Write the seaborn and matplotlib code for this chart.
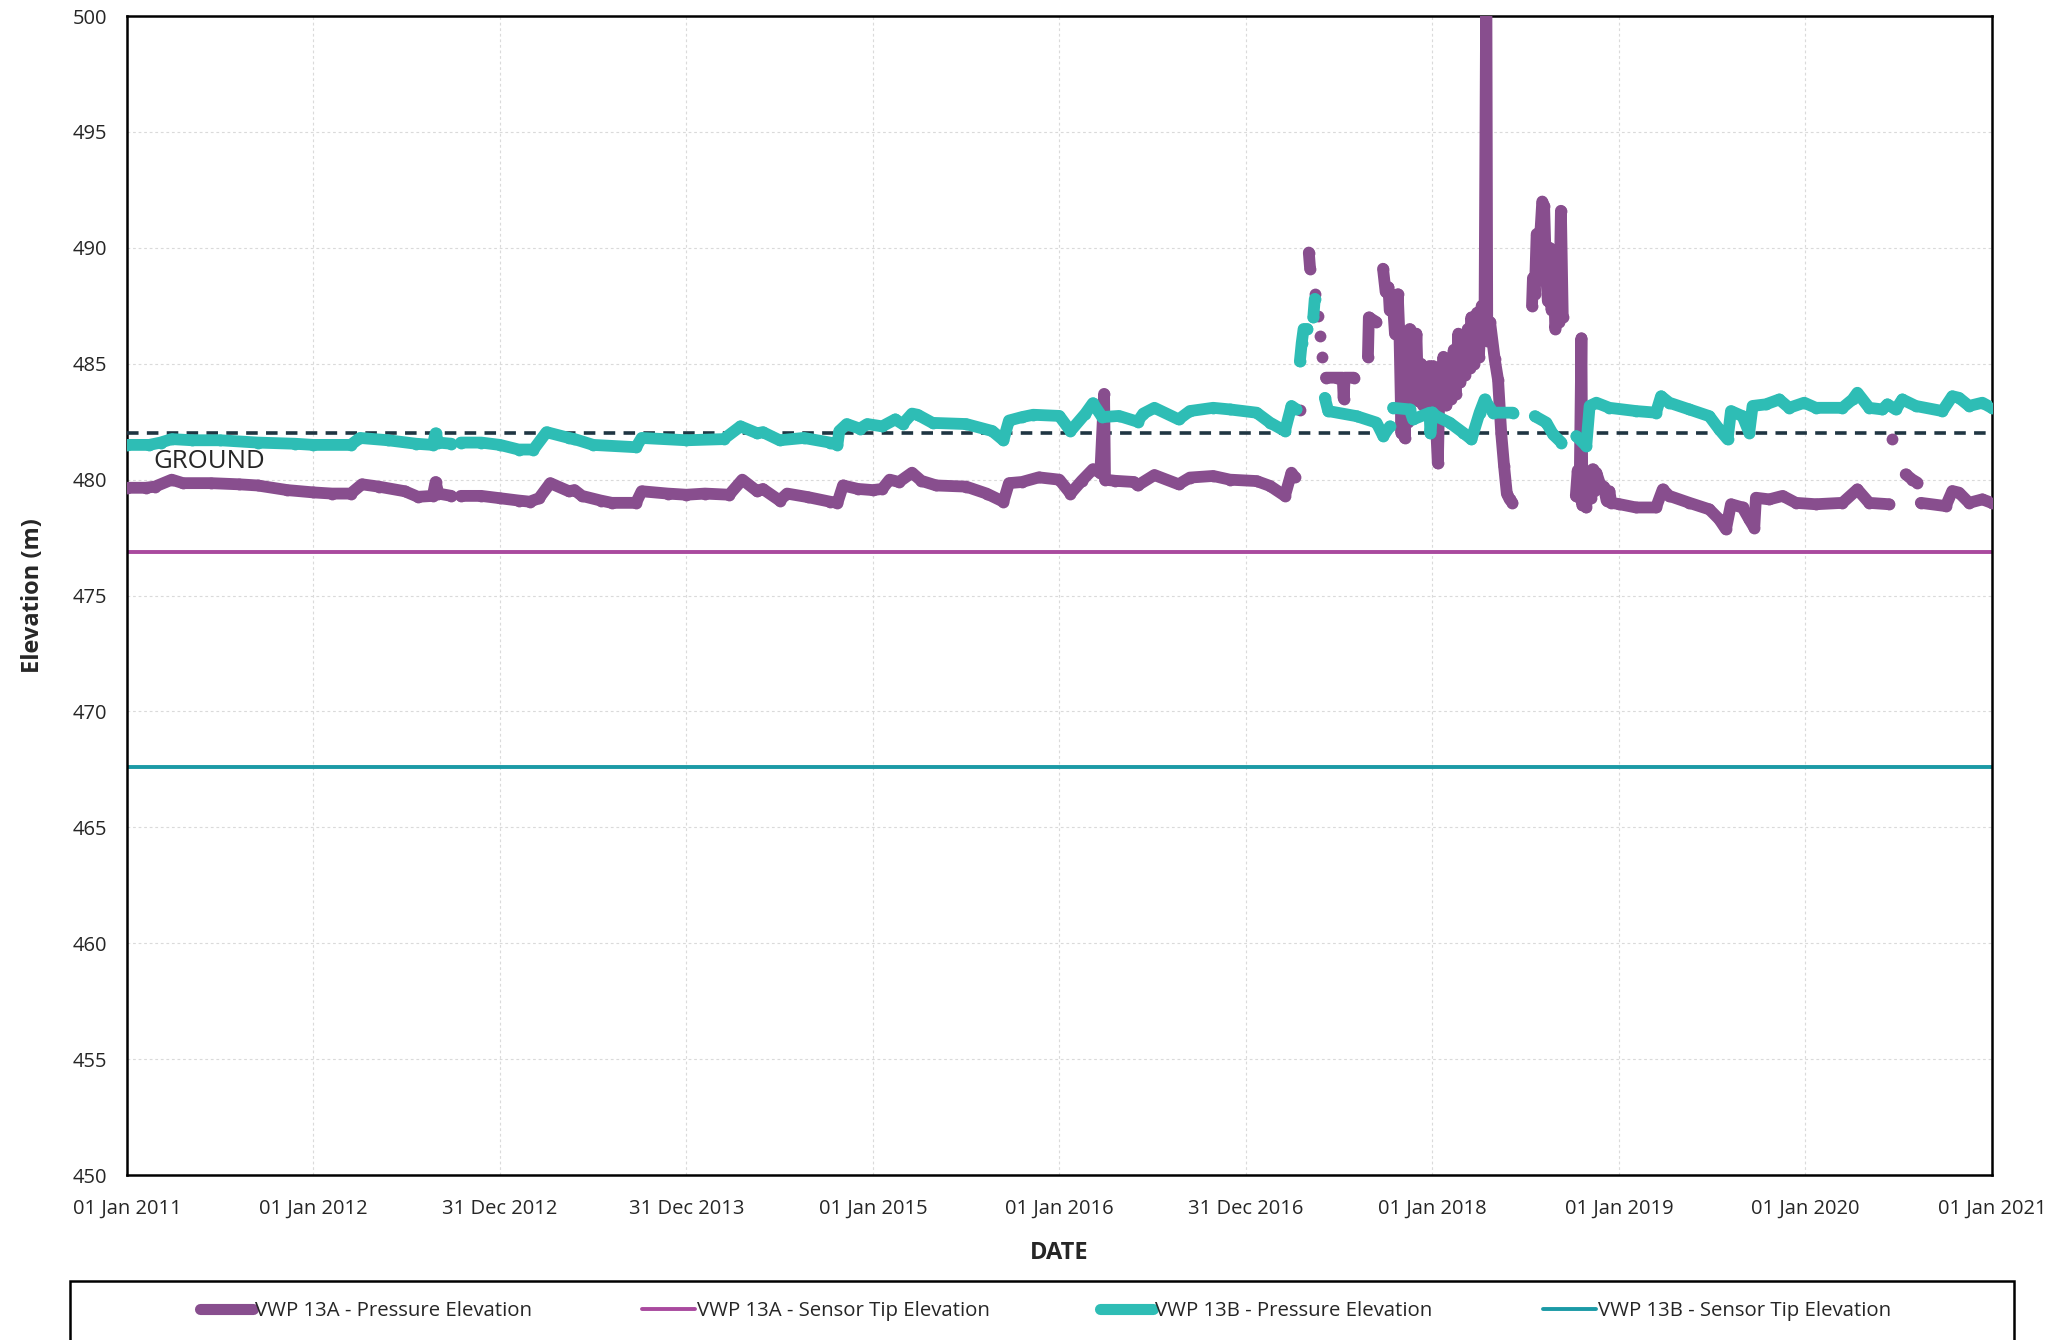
import matplotlib
matplotlib.use("Agg")
import matplotlib.pyplot as plt
import matplotlib.dates as mdates
from matplotlib.lines import Line2D
from matplotlib.patches import Rectangle
import numpy as np
import pandas as pd
import seaborn as sns

# readings as decimal years, None marks a gap in the logger record
vwp13a_years = [
    2011.00, 2011.10, 2011.15, 2011.24, 2011.30, 2011.45, 2011.60, 2011.70, 2011.86, 2012.00,
    2012.10, 2012.20, 2012.26, 2012.35, 2012.49, 2012.56, 2012.64, 2012.655, 2012.67, 2012.74,
    None,
    2012.79, 2012.90, 2013.00, 2013.10, 2013.16, 2013.21, 2013.27, 2013.37, 2013.40, 2013.44,
    2013.54, 2013.60, 2013.73, 2013.76, 2013.90, 2014.00, 2014.10, 2014.23, 2014.30, 2014.38,
    2014.41, 2014.50, 2014.54, 2014.65, 2014.77, 2014.81, 2014.84, 2014.92, 2015.00, 2015.05,
    2015.09, 2015.14, 2015.21, 2015.26, 2015.34, 2015.50, 2015.61, 2015.70, 2015.73, 2015.80,
    2015.89, 2016.00, 2016.06, 2016.12, 2016.18, 2016.22, 2016.24, 2016.245, 2016.30, 2016.40,
    2016.42, 2016.51, 2016.64, 2016.70, 2016.825, 2016.915, 2017.058, 2017.13, 2017.21, 2017.245,
    2017.263,
    None, 2017.29,
    None, 2017.338, 2017.345,
    None, 2017.37,
    None, 2017.388,
    None, 2017.40,
    None, 2017.41,
    None,
    2017.43, 2017.49, 2017.52, 2017.525, 2017.53, 2017.58,
    None,
    2017.655, 2017.66, 2017.70,
    None,
    2017.736, 2017.75, 2017.765, 2017.772, 2017.79, 2017.80, 2017.815, 2017.825, 2017.835, 2017.843,
    2017.852, 2017.861, 2017.87, 2017.879, 2017.888, 2017.897, 2017.905, 2017.915, 2017.925, 2017.94,
    2017.95, 2017.96, 2017.975, 2017.985, 2017.995, 2018.005, 2018.015, 2018.03, 2018.04, 2018.05,
    2018.06, 2018.075, 2018.09, 2018.10, 2018.115, 2018.125, 2018.14, 2018.15, 2018.165, 2018.175,
    2018.19, 2018.20, 2018.21, 2018.225, 2018.24, 2018.25, 2018.265, 2018.28, 2018.29, 2018.295,
    2018.31, 2018.335, 2018.353, 2018.37, 2018.385, 2018.40, 2018.415, 2018.43,
    None,
    2018.535, 2018.54, 2018.55, 2018.56, 2018.575, 2018.59, 2018.60, 2018.61, 2018.62, 2018.63,
    2018.64, 2018.65, 2018.66, 2018.67, 2018.68, 2018.69, 2018.70,
    None,
    2018.77, 2018.78, 2018.79, 2018.80, 2018.805, 2018.815, 2018.825, 2018.835, 2018.85, 2018.86,
    2018.87, 2018.88, 2018.90, 2018.92, 2018.935, 2018.95, 2018.96, 2019.00, 2019.093, 2019.20,
    2019.236, 2019.271, 2019.379, 2019.486, 2019.539, 2019.575, 2019.602, 2019.664, 2019.70, 2019.727,
    2019.736, 2019.807, 2019.879, 2019.95, 2020.057, 2020.20, 2020.28, 2020.343, 2020.45,
    None, 2020.468,
    None, 2020.539, 2020.575, 2020.602,
    None,
    2020.62, 2020.754, 2020.789, 2020.825, 2020.879, 2020.95, 2021.00,
]
vwp13a_elev = [
    479.65, 479.65, 479.7, 480.0, 479.85, 479.85, 479.8, 479.75, 479.55, 479.45,
    479.4, 479.4, 479.8, 479.7, 479.5, 479.26, 479.3, 479.9, 479.4, 479.3,
    None,
    479.3, 479.3, 479.2, 479.1, 479.05, 479.2, 479.85, 479.5, 479.55, 479.3,
    479.1, 479.0, 479.0, 479.5, 479.4, 479.35, 479.4, 479.35, 480.0, 479.5,
    479.6, 479.1, 479.4, 479.25, 479.05, 479.0, 479.75, 479.6, 479.55, 479.6,
    480.0, 479.9, 480.3, 479.95, 479.75, 479.7, 479.4, 479.05, 479.85, 479.9,
    480.1, 480.0, 479.4, 479.95, 480.45, 480.3, 483.7, 480.0, 479.95, 479.9,
    479.75, 480.2, 479.8, 480.09, 480.16, 480.0, 479.94, 479.73, 479.3, 480.3,
    480.1,
    None, 483.0,
    None, 489.8, 489.1,
    None, 488.0,
    None, 487.05,
    None, 486.2,
    None, 485.3,
    None,
    484.4, 484.4, 484.4, 483.5, 484.4, 484.4,
    None,
    485.3, 487.0, 486.8,
    None,
    489.1, 488.1, 488.3, 487.3, 487.5, 486.3, 488.0, 486.0, 482.0, 485.6,
    481.8, 484.5, 482.5, 486.5, 484.0, 485.8, 484.2, 486.3, 483.4, 485.0,
    483.2, 484.6, 483.0, 484.9, 483.5, 484.9, 483.3, 480.7, 484.5, 483.3,
    485.3, 483.2, 485.0, 483.5, 485.6, 483.7, 486.3, 484.2, 486.0, 484.5,
    486.5, 484.8, 487.0, 485.0, 487.2, 485.3, 487.5, 486.3, 502.0, 486.0,
    486.8, 485.2, 484.3, 482.0, 480.6, 479.4, 479.15, 479.0,
    None,
    487.5, 488.7, 488.0, 490.6, 490.0, 492.0, 491.8, 489.0, 487.7, 490.0,
    487.3, 489.5, 486.5, 487.2, 486.8, 491.6, 487.0,
    None,
    479.3, 480.4, 479.2, 486.1, 478.9, 480.0, 478.8, 479.6, 479.2, 480.45,
    479.5, 480.3, 479.8, 479.7, 479.1, 479.5, 479.0, 478.95, 478.8, 478.8,
    479.58, 479.3, 479.0, 478.72, 478.29, 477.86, 478.94, 478.8, 478.29, 477.93,
    479.22, 479.15, 479.3, 479.0, 478.94, 479.0, 479.58, 479.0, 478.94,
    None, 481.74,
    None, 480.23, 480.0, 479.87,
    None,
    479.0, 478.86, 479.51, 479.44, 479.0, 479.15, 479.0,
]

vwp13b_years = [
    2011.00, 2011.12, 2011.18, 2011.24, 2011.35, 2011.50, 2011.70, 2011.90, 2012.00, 2012.20,
    2012.25, 2012.40, 2012.55, 2012.64, 2012.655, 2012.67, 2012.74,
    None,
    2012.79, 2012.90, 2013.00, 2013.10, 2013.18, 2013.25, 2013.37, 2013.40, 2013.50, 2013.73,
    2013.76, 2014.00, 2014.20, 2014.29, 2014.38, 2014.41, 2014.50, 2014.63, 2014.77, 2014.81,
    2014.82, 2014.86, 2014.93, 2014.97, 2015.05, 2015.12, 2015.16, 2015.21, 2015.24, 2015.32,
    2015.50, 2015.64, 2015.70, 2015.73, 2015.80, 2015.86, 2016.00, 2016.06, 2016.14, 2016.18,
    2016.23, 2016.32, 2016.42, 2016.45, 2016.51, 2016.64, 2016.70, 2016.825, 2016.915, 2017.058,
    2017.13, 2017.21, 2017.245, 2017.272,
    None,
    2017.29, 2017.30, 2017.31, 2017.33,
    None,
    2017.362, 2017.37,
    None,
    2017.424, 2017.442, 2017.594, 2017.701, 2017.737, 2017.773,
    None,
    2017.79, 2017.879, 2017.897, 2017.986, 2017.99, 2018.00, 2018.022, 2018.093, 2018.165, 2018.21,
    2018.254, 2018.281, 2018.326, 2018.433,
    None,
    2018.55, 2018.612, 2018.648, 2018.693,
    None,
    2018.773, 2018.826, 2018.844, 2018.88, 2018.95, 2019.093, 2019.20, 2019.227, 2019.271, 2019.379,
    2019.486, 2019.539, 2019.584, 2019.602, 2019.664, 2019.70, 2019.718, 2019.789, 2019.861, 2019.914,
    2019.995, 2020.057, 2020.20, 2020.254, 2020.28, 2020.343, 2020.414, 2020.441, 2020.486, 2020.521,
    2020.593, 2020.736, 2020.789, 2020.825, 2020.879, 2020.95, 2021.00,
]
vwp13b_elev = [
    481.5, 481.5, 481.6, 481.75, 481.7, 481.7, 481.6, 481.55, 481.5, 481.5,
    481.8, 481.7, 481.55, 481.5, 482.0, 481.6, 481.55,
    None,
    481.6, 481.6, 481.5, 481.3, 481.3, 482.05, 481.8, 481.75, 481.5, 481.4,
    481.8, 481.7, 481.75, 482.3, 482.0, 482.05, 481.7, 481.8, 481.6, 481.5,
    482.1, 482.4, 482.2, 482.4, 482.3, 482.6, 482.4, 482.85, 482.8, 482.45,
    482.4, 482.1, 481.7, 482.55, 482.7, 482.8, 482.75, 482.1, 482.85, 483.3,
    482.7, 482.75, 482.5, 482.85, 483.1, 482.6, 482.96, 483.1, 483.03, 482.89,
    482.46, 482.1, 483.18, 483.03,
    None,
    485.1, 485.9, 486.5, 486.5,
    None,
    487.0, 487.8,
    None,
    483.53, 482.96, 482.74, 482.46, 481.88, 482.3,
    None,
    483.1, 483.03, 482.6, 482.89, 482.0, 482.9, 482.74, 482.46, 482.03, 481.74,
    482.89, 483.46, 482.89, 482.89,
    None,
    482.74, 482.46, 481.95, 481.6,
    None,
    481.88, 481.45, 483.18, 483.32, 483.1, 482.96, 482.89, 483.6, 483.32, 483.03,
    482.74, 482.17, 481.74, 482.96, 482.74, 482.03, 483.18, 483.25, 483.46, 483.1,
    483.32, 483.1, 483.1, 483.46, 483.75, 483.1, 483.03, 483.25, 483.03, 483.46,
    483.18, 482.96, 483.6, 483.53, 483.18, 483.32, 483.1,
]

vwp13a_tip = 476.9
vwp13b_tip = 467.6
ground_level = 482.0

PURPLE = "#884E8E"
MAGENTA = "#A94A9E"
TEAL = "#2EBDB5"
DARK_TEAL = "#1B9AA6"
GROUND_COLOUR = "#1F3542"

START = pd.Timestamp("2011-01-01")
END = pd.Timestamp("2021-01-01")


def to_frame(years, elev):
    # split the record into continuous runs at each None
    rows = []
    seg = 0
    for yr, val in zip(years, elev):
        if yr is None or val is None:
            seg += 1
            continue
        date = START + pd.to_timedelta((yr - 2011.0) * 365.25, unit="D")
        rows.append({"date": date, "elev": val, "seg": seg})
    return pd.DataFrame(rows)


sns.set_style("white")
plt.rcParams["font.family"] = ["Open Sans", "DejaVu Sans"]

fig, ax = plt.subplots(figsize=(20.68, 13.4), dpi=100)
fig.subplots_adjust(left=0.0614, right=0.9632, top=0.988, bottom=0.1231)

ax.grid(True, color="#dadada", linestyle=(0, (2.5, 2.5)), linewidth=0.8)
ax.set_axisbelow(True)

tips = pd.DataFrame({
    "date": [START, END, START, END],
    "elev": [vwp13a_tip, vwp13a_tip, vwp13b_tip, vwp13b_tip],
    "series": ["a", "a", "b", "b"],
})
sns.lineplot(data=tips[tips.series == "a"], x="date", y="elev", color=MAGENTA,
             linewidth=2.8, ax=ax, legend=False)
sns.lineplot(data=tips[tips.series == "b"], x="date", y="elev", color=DARK_TEAL,
             linewidth=2.8, ax=ax, legend=False)

ax.axhline(ground_level, color=GROUND_COLOUR, linestyle=(0, (3.2, 2.3)), linewidth=2.6, zorder=3)
ax.text(START + pd.Timedelta(days=52), 480.8, "GROUND", fontsize=18.5, va="center", ha="left")

df_a = to_frame(vwp13a_years, vwp13a_elev)
df_b = to_frame(vwp13b_years, vwp13b_elev)

for frame, col in [(df_a, PURPLE), (df_b, TEAL)]:
    sns.lineplot(data=frame, x="date", y="elev", units="seg", estimator=None, sort=False,
                 color=col, linewidth=8.5, marker="o", markersize=8.5, markeredgewidth=0,
                 solid_capstyle="round", solid_joinstyle="round", ax=ax, legend=False, zorder=4)

ax.set_xlim(START, END)
ax.set_ylim(450, 500)
ax.set_yticks(np.arange(450, 501, 5))
ax.set_xticks(np.linspace(mdates.date2num(START), mdates.date2num(END), 11))
ax.xaxis.set_major_formatter(mdates.DateFormatter("%d %b %Y"))
ax.tick_params(axis="both", labelsize=14.5, length=6, width=1, color="#333333")
ax.tick_params(axis="x", pad=11)
ax.tick_params(axis="y", pad=8)

for side in ["left", "right", "top", "bottom"]:
    ax.spines[side].set_visible(True)
    ax.spines[side].set_color("black")
    ax.spines[side].set_linewidth(1.8)

ax.set_xlabel("DATE", fontsize=17, fontweight="bold", labelpad=16)
ax.set_ylabel("Elevation (m)", fontsize=17, fontweight="bold", labelpad=20)

handles = [
    Line2D([], [], color=PURPLE, linewidth=8, solid_capstyle="round"),
    Line2D([], [], color=MAGENTA, linewidth=2.8),
    Line2D([], [], color=TEAL, linewidth=8, solid_capstyle="round"),
    Line2D([], [], color=DARK_TEAL, linewidth=2.8),
]
labels = [
    "VWP 13A - Pressure Elevation",
    "VWP 13A - Sensor Tip Elevation",
    "VWP 13B - Pressure Elevation",
    "VWP 13B - Sensor Tip Elevation",
]
fig.legend(handles, labels, loc="center", bbox_to_anchor=(0.5055, 0.0216), ncol=4,
           frameon=False, fontsize=14.7, handlelength=2.6, handletextpad=0.1,
           columnspacing=5.4)
fig.patches.append(Rectangle((0.0339, -0.1), 0.94, 0.144, transform=fig.transFigure,
                             fill=False, edgecolor="black", linewidth=1.8))

fig.savefig("out.png", dpi=100)
plt.close(fig)
